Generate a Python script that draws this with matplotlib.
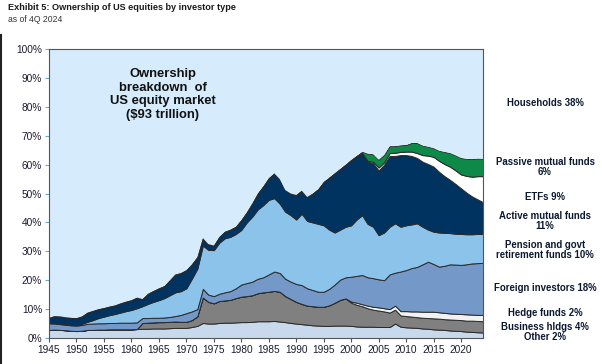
import numpy as np
import matplotlib
matplotlib.use("Agg")
import matplotlib.pyplot as plt
from matplotlib.lines import Line2D

# ---------------- data (share of US equity market, %) ----------------
years = np.arange(1945, 2025)

other = [2.8, 2.9, 2.8, 2.7, 2.5,
         2.4, 2.5, 2.8, 2.8, 2.9,
         2.9, 3.0, 3.0, 3.0, 3.0,
         3.0, 3.1, 3.2, 3.2, 3.3,
         3.3, 3.3, 3.4, 3.5, 3.5,
         3.5, 3.8, 4.2, 5.2, 5.0,
         5.0, 5.2, 5.3, 5.3, 5.4,
         5.5, 5.5, 5.6, 5.8, 5.8,
         5.8, 5.9, 5.7, 5.5, 5.2,
         5.0, 4.8, 4.6, 4.4, 4.3,
         4.2, 4.2, 4.3, 4.3, 4.3,
         4.2, 4.0, 3.9, 3.9, 3.9,
         3.8, 3.8, 3.8, 5.0, 3.9,
         3.7, 3.6, 3.5, 3.3, 3.2,
         3.0, 2.9, 2.8, 2.6, 2.5,
         2.4, 2.2, 2.1, 2.0, 1.9]

business = [0, 0, 0, 0, 0,
            0, 0, 0, 0, 0,
            0, 0, 0, 0, 0,
            0, 0, 2.0, 2.1, 2.1,
            2.2, 2.2, 2.2, 2.2, 2.1,
            2.1, 2.4, 3.3, 8.8, 7.5,
            7.0, 7.6, 7.7, 7.9, 8.4,
            8.8, 9.0, 9.2, 9.7, 10.0,
            10.2, 10.4, 10.3, 9.0, 8.3,
            7.5, 7.0, 6.6, 6.6, 6.5,
            6.6, 7.1, 7.9, 8.9, 9.4,
            8.0, 7.5, 7.1, 6.4, 5.9,
            5.7, 5.4, 5.0, 4.8, 3.9,
            3.9, 3.8, 3.7, 3.7, 3.7,
            3.8, 3.8, 3.7, 3.8, 3.8,
            3.8, 3.8, 3.9, 3.9, 3.9]

hedge = [0] * 55 + [0.4, 0.7, 0.7, 0.9, 1.0,
                    1.1, 1.1, 1.2, 1.4, 1.5,
                    1.7, 1.8, 2.0, 2.1, 2.2,
                    2.3, 2.2, 2.2, 2.1, 2.1,
                    2.1, 2.2, 2.1, 2.1, 2.2]

foreign = [2.3, 2.1, 2.0, 1.9, 1.9,
           1.9, 2.0, 2.1, 2.2, 2.2,
           2.2, 2.2, 2.2, 2.3, 2.3,
           2.3, 2.3, 1.7, 1.6, 1.6,
           1.5, 1.6, 1.7, 1.9, 2.4,
           3.0, 3.0, 2.5, 3.0, 2.5,
           2.5, 2.5, 2.8, 3.0, 3.4,
           4.2, 4.5, 4.7, 5.0, 5.2,
           6.0, 6.7, 6.5, 6.0, 6.0,
           6.2, 6.5, 6.0, 5.6, 5.2,
           5.2, 5.7, 6.3, 7.0, 7.3,
           8.6, 9.3, 10.1, 9.8, 9.9,
           9.7, 9.7, 12.0, 11.4, 13.7,
           14.2, 15.0, 15.4, 16.4, 17.3,
           16.5, 15.8, 16.3, 17.0, 17.0,
           17.0, 17.3, 17.7, 17.9, 18.0]

pension = [0.2, 0.2, 0.2, 0.2, 0.2,
           0.2, 0.4, 0.7, 1.2, 1.8,
           2.3, 2.7, 3.1, 3.5, 4.0,
           4.4, 4.9, 4.1, 4.9, 5.5,
           6.1, 6.7, 7.5, 8.2, 8.2,
           8.6, 11.3, 14.0, 15.0, 15.5,
           15.9, 17.7, 18.7, 18.8, 18.8,
           18.9, 21.0, 22.5, 24.0, 25.0,
           25.8, 25.4, 24.0, 23.2, 23.0,
           22.3, 24.7, 23.3, 23.4, 23.5,
           23.0, 20.5, 18.0, 17.3, 17.5,
           17.8, 19.5, 20.7, 18.5, 17.8,
           15.3, 16.5, 16.5, 17.1, 15.5,
           15.5, 15.1, 15.1, 13.0, 11.1,
           11.2, 11.8, 11.4, 10.8, 10.7,
           10.7, 10.4, 10.1, 10.1, 10.0]

active = [1.7, 2.4, 2.5, 2.4, 2.4,
          2.4, 2.6, 3.2, 3.2, 3.1,
          3.0, 3.0, 3.0, 3.2, 3.3,
          3.4, 3.7, 2.5, 3.5, 3.8,
          4.1, 4.2, 5.2, 6.2, 6.3,
          6.3, 5.0, 4.0, 2.6, 2.0,
          1.6, 2.0, 2.3, 2.5, 2.5,
          3.4, 3.5, 4.6, 5.5, 6.5,
          7.5, 8.6, 8.5, 7.5, 7.5,
          8.5, 8.0, 8.3, 10.0, 12.0,
          15.0, 18.0, 20.5, 21.0, 21.5,
          22.6, 22.0, 21.5, 21.5, 22.0,
          22.4, 23.5, 24.5, 23.3, 24.8,
          24.3, 23.7, 22.6, 22.5, 22.7,
          22.5, 21.0, 19.6, 18.4, 17.2,
          15.8, 14.4, 13.1, 12.0, 11.0]

etfs = [0] * 58 + [0.3, 0.5,
                   1.0, 0.8, 1.0, 1.1, 1.1,
                   1.2, 1.5, 1.7, 2.3, 2.9,
                   3.4, 3.8, 4.2, 4.6, 4.7,
                   4.8, 5.8, 6.8, 8.0, 9.0]

passive = [0] * 57 + [0.5, 2.5, 2.6,
                      2.7, 2.6, 2.4, 2.3, 2.3,
                      2.3, 3.0, 3.5, 3.3, 3.1,
                      3.0, 3.5, 4.2, 4.7, 5.2,
                      5.7, 5.9, 6.1, 6.1, 6.0]

series_names = ["Other", "Business hldgs", "Hedge funds", "Foreign investors",
                "Pension and govt retirement funds", "Active mutual funds",
                "ETFs", "Passive mutual funds", "Households"]

right_labels = ["Households 38%", "Passive mutual funds\n6%", "ETFs 9%",
                "Active mutual funds\n11%", "Pension and govt\nretirement funds 10%",
                "Foreign investors 18%", "Hedge funds 2%", "Business hldgs 4%",
                "Other 2%"]

x_ticks = list(range(1945, 2021, 5))
y_ticks = list(range(0, 101, 10))

# ---------------- figure ----------------
stack = np.array([other, business, hedge, foreign, pension, active, etfs, passive], dtype=float)
households = 100 - stack.sum(axis=0)
stack = np.vstack([stack, households])

colors = ["#c9d9ed", "#808080", "#f2f2f2", "#7499c9", "#8cc3ea",
          "#003360", "#ffffff", "#0e8a48", "#d6ebfb"]

W, H = 602, 364
fig = plt.figure(figsize=(W / 100, H / 100), dpi=100)
ax = fig.add_axes([49 / W, 1 - 338 / H, (483 - 49) / W, (338 - 49) / H])

polys = ax.stackplot(years, stack, colors=colors, edgecolor="#2a2a2a", linewidth=0.7)
polys[-1].set_edgecolor("none")

ax.set_xlim(1945, 2024)
ax.set_ylim(0, 100)
ax.set_xticks(x_ticks)
ax.set_xticklabels([str(t) for t in x_ticks])
ax.set_yticks(y_ticks)
ax.set_yticklabels([f"{t}%" for t in y_ticks])

fam = ["Liberation Sans", "DejaVu Sans"]
for lab in ax.get_xticklabels() + ax.get_yticklabels():
    lab.set_fontfamily(fam)
    lab.set_fontsize(7.3)
    lab.set_color("#1b1b30")
ax.tick_params(axis="y", length=3, width=0.8, color="#5aaee0", pad=2)
ax.tick_params(axis="x", length=3, width=0.8, color="#555555", pad=2)
for sp in ax.spines.values():
    sp.set_color("#555555")
    sp.set_linewidth(0.8)

ax.text(1965.7, 84.3, "Ownership\nbreakdown  of\nUS equity market\n($93 trillion)",
        ha="center", va="center", fontsize=9.4, fontweight="bold",
        family=fam, color="#111111", linespacing=1.18)

# right-hand labels
label_y_px = [103, 167, 196.5, 221, 250, 288, 313, 326.5, 337.5]
for txt, ypx in zip(right_labels, label_y_px):
    fig.text(545 / W, 1 - ypx / H, txt, ha="center", va="center", fontsize=6.9,
             fontweight="bold", family=fam, color="#0c1830", linespacing=1.12)

# title
fig.text(8 / W, 1 - 8 / H, "Exhibit 5: Ownership of US equities by investor type",
         ha="left", va="center", fontsize=6.6, fontweight="bold",
         family=["Liberation Sans Narrow", "Liberation Sans", "DejaVu Sans"], color="#1a1a1a")
fig.text(8 / W, 1 - 19 / H, "as of 4Q 2024", ha="left", va="center", fontsize=6.2,
         family=["Liberation Sans Narrow", "Liberation Sans", "DejaVu Sans"], color="#333333")

# left border line
fig.add_artist(Line2D([1 / W, 1 / W], [0, 1 - 35 / H], transform=fig.transFigure,
                      color="#222222", linewidth=1.5))

fig.savefig("out.png", dpi=100)
